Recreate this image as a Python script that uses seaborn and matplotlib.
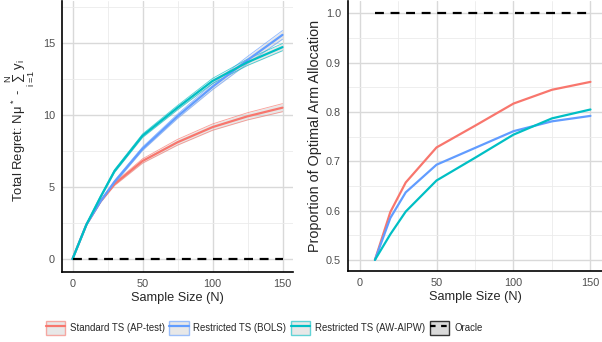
import numpy as np
import pandas as pd
import matplotlib
matplotlib.use("Agg")
import matplotlib.pyplot as plt
import seaborn as sns
from matplotlib.patches import Patch
from matplotlib.lines import Line2D

# regret panel
n_regret = [0, 10, 20, 30, 50, 75, 100, 125, 150]
regret_std = [0, 2.4, 4.0, 5.2, 6.8, 8.1, 9.15, 9.9, 10.5]
regret_bols = [0, 2.4, 4.0, 5.35, 7.65, 9.9, 11.95, 13.8, 15.55]
regret_aipw = [0, 2.4, 4.3, 6.1, 8.55, 10.5, 12.35, 13.65, 14.7]
se_std = [0, 0.05, 0.08, 0.1, 0.15, 0.2, 0.22, 0.25, 0.28]
se_bols = [0, 0.05, 0.08, 0.1, 0.12, 0.15, 0.2, 0.25, 0.3]
se_aipw = [0, 0.05, 0.08, 0.1, 0.12, 0.15, 0.18, 0.22, 0.25]

# allocation panel
n_alloc = [10, 20, 30, 50, 75, 100, 125, 150]
alloc_std = [0.5, 0.597, 0.657, 0.728, 0.772, 0.817, 0.845, 0.861]
alloc_bols = [0.5, 0.585, 0.637, 0.693, 0.727, 0.761, 0.781, 0.792]
alloc_aipw = [0.5, 0.552, 0.598, 0.661, 0.707, 0.754, 0.787, 0.805]

methods = ["Standard TS (AP-test)", "Restricted TS (BOLS)", "Restricted TS (AW-AIPW)"]
colors = ["#F8766D", "#619CFF", "#00BFC4"]

sns.set_style("white")
plt.rcParams['font.family'] = ['Liberation Sans', 'DejaVu Sans']
plt.rcParams['mathtext.fontset'] = 'custom'
plt.rcParams['mathtext.rm'] = 'Liberation Sans'
plt.rcParams['mathtext.it'] = 'Liberation Sans'

regret = pd.DataFrame({
    "N": n_regret * 3,
    "value": regret_std + regret_bols + regret_aipw,
    "se": se_std + se_bols + se_aipw,
    "method": sum([[m] * len(n_regret) for m in methods], []),
})
alloc = pd.DataFrame({
    "N": n_alloc * 3,
    "value": alloc_std + alloc_bols + alloc_aipw,
    "method": sum([[m] * len(n_alloc) for m in methods], []),
})

fig = plt.figure(figsize=(6.02, 3.42), dpi=100)
ax1 = fig.add_axes([62 / 602, 1 - 272 / 342, 231 / 602, 271 / 342])
ax2 = fig.add_axes([348 / 602, 1 - 271 / 342, 254 / 602, 270 / 342])

pal = dict(zip(methods, colors))

for m, c in pal.items():
    d = regret[regret.method == m]
    lo = d.value - d.se
    hi = d.value + d.se
    ax1.fill_between(d.N, lo, hi, color="#BEBEBE", alpha=0.35, lw=0, zorder=2)
    ax1.plot(d.N, lo, color=c, lw=0.6, alpha=0.7, zorder=2)
    ax1.plot(d.N, hi, color=c, lw=0.6, alpha=0.7, zorder=2)

sns.lineplot(data=regret, x="N", y="value", hue="method", palette=pal,
             ax=ax1, legend=False, lw=1.6, zorder=3)
ax1.plot([0, 150], [0, 0], color="black", ls=(0, (4, 3)), lw=1.6, zorder=4)

sns.lineplot(data=alloc, x="N", y="value", hue="method", palette=pal,
             ax=ax2, legend=False, lw=1.6, zorder=3)
ax2.plot([10, 150], [1, 1], color="black", ls=(0, (4, 3)), lw=1.6, zorder=4)

ax1.set_xlim(-7.5, 157.5)
ax1.set_ylim(-0.9, 17.9)
ax1.set_yticks([0, 5, 10, 15])
ax1.set_yticks([2.5, 7.5, 12.5, 17.5], minor=True)
ax2.set_xlim(-7.5, 157.5)
ax2.set_ylim(0.4775, 1.025)
ax2.set_yticks([0.5, 0.6, 0.7, 0.8, 0.9, 1.0])
ax2.set_yticklabels(["0.5", "0.6", "0.7", "0.8", "0.9", "1.0"])
ax2.set_yticks([0.55, 0.65, 0.75, 0.85, 0.95], minor=True)

for ax in (ax1, ax2):
    ax.set_xticks([0, 50, 100, 150])
    ax.set_xticks([25, 75, 125], minor=True)
    ax.grid(which="major", color="#D9D9D9", lw=1.0, zorder=0)
    ax.grid(which="minor", color="#EBEBEB", lw=0.6, zorder=0)
    ax.set_axisbelow(True)
    for s in ("top", "right"):
        ax.spines[s].set_visible(False)
    for s in ("left", "bottom"):
        ax.spines[s].set_color("black")
        ax.spines[s].set_linewidth(1.2)
    ax.tick_params(which="major", length=3, width=0.8, color="#333333",
                   labelsize=7.8, labelcolor="#4D4D4D", pad=2)
    ax.tick_params(which="minor", length=0)
    ax.set_xlabel("Sample Size (N)", fontsize=9.2, labelpad=2)

ax1.set_ylabel(r"Total Regret: N$\mathrm{\mu}^{\,*}$ - $\sum_{\mathrm{i=1}}^{\mathrm{N}}\,\mathrm{y}_{\mathrm{i}}$",
               fontsize=9.4, labelpad=1)
ax1.yaxis.set_label_coords(-0.108, 0.52)
ax2.set_ylabel("Proportion of Optimal Arm Allocation", fontsize=10.4, labelpad=3)

handles = []
for c in colors:
    handles.append((Patch(facecolor="#D9D9D9", edgecolor=c, alpha=0.6, lw=1),
                    Line2D([], [], color=c, lw=1.6)))
handles.append((Patch(facecolor="#D9D9D9", edgecolor="#333333", lw=1),
                Line2D([], [], color="black", lw=1.6, ls=(0, (2.5, 2.5)))))
labels = methods + ["Oracle"]
fig.legend(handles, labels, loc="center", bbox_to_anchor=(264 / 602, 1 - 328 / 342),
           ncol=4, frameon=False, fontsize=6.9, handlelength=2.0,
           handleheight=2.0, handletextpad=0.5, columnspacing=0.5)

fig.savefig("out.png", dpi=100)
